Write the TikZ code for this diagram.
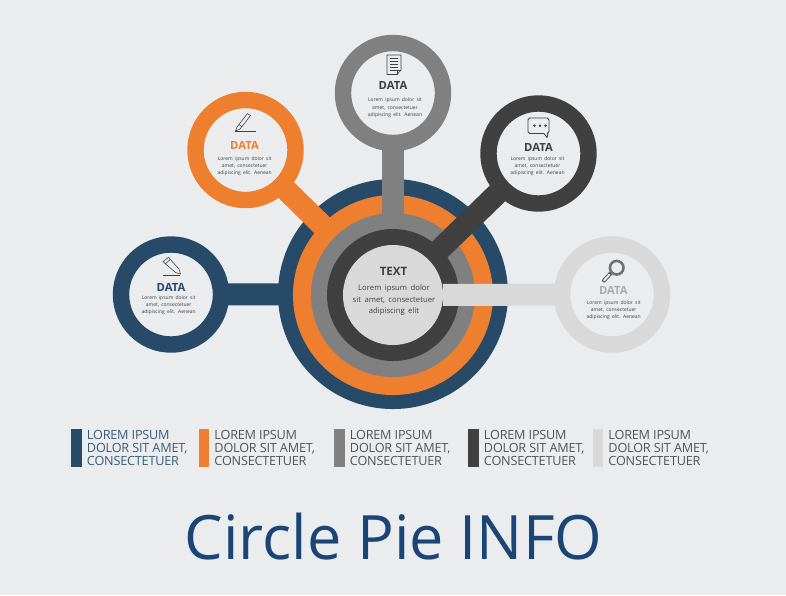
\documentclass[tikz,border=0pt]{standalone}
\usepackage{fontspec}
\setmainfont{Open Sans}
\newfontfamily\widefont[WordSpace=2.2]{Open Sans}
\newfontfamily\hubfont[WordSpace=1.7]{Open Sans}
\newfontfamily\legendfont[LetterSpace=-1.6]{Open Sans}
\usetikzlibrary{positioning}
\definecolor{navyc}{HTML}{264A68}
\definecolor{orangec}{HTML}{EE7F2E}
\definecolor{grayc}{HTML}{808080}
\definecolor{darkc}{HTML}{404040}
\definecolor{lightc}{HTML}{D9D9D9}
\definecolor{paperc}{HTML}{EBECEE}
\definecolor{titlec}{HTML}{1B4576}
\tikzset{x=0.025cm,y=-0.025cm,
  hubring/.style={circle,inner sep=0pt,outer sep=0pt,minimum size=#1},
  satring/.style={circle,inner sep=0pt,outer sep=0pt,minimum size=2.5cm,line width=0.41cm,fill=paperc,draw=#1},
  spoke/.style={line width=0.55cm,#1},
  datalabel/.style={inner sep=0pt,font=\fontsize{8}{9}\selectfont\bfseries},
  loremtext/.style={inner sep=0pt,align=center,text=darkc,font=\widefont\fontsize{3.55}{5.1}\selectfont},
  legendbar/.style={inner sep=0pt,outer sep=0pt,minimum width=0.27cm,minimum height=0.95cm,fill=#1},
  legendtext/.style={inner sep=0pt,align=left,font=\legendfont\fontsize{9}{9.2}\selectfont},
  icon/.style={draw=darkc,line width=0.4pt,line join=round}}

\begin{document}
\begin{tikzpicture}
                  \fill[paperc] (0,0) rectangle (786,595);
                  \useasboundingbox (0,0) rectangle (786,595);
                  \node[hubring=5.75cm,fill=navyc] (ringnavy) at (393,294) {};
                  \node[satring=navyc] (satnavy) at (171,294.5) {};
                  \draw[spoke=navyc] (ringnavy.center) -- (satnavy);
                  \node[hubring=5cm,fill=orangec] (ringorange) at (393,295) {};
                  \node[satring=orangec] (satorange) at (245.5,150) {};
                  \draw[spoke=orangec] (ringorange.center) -- (satorange);
                  \node[hubring=4.1cm,fill=grayc] (ringgray) at (393,295) {};
                  \node[satring=grayc] (satgray) at (393,93) {};
                  \draw[spoke=grayc] (ringgray.center) -- (satgray);
                  \node[hubring=3.3cm,fill=darkc] (ringdark) at (393,295) {};
                  \node[satring=darkc] (satdark) at (538.5,153.5) {};
                  \draw[spoke=darkc] (ringdark.center) -- (satdark);
                  \node[hubring=2.5cm,fill=lightc] (hub) at (393,295) {};
                  \node[satring=lightc] (satlight) at (612,294.5) {};
                  \draw[spoke=lightc] (hub) -- (satlight);

                  \node[inner sep=0pt,text=darkc,font=\fontsize{8.2}{9}\selectfont\bfseries] (hubtitle) at (393.5,271) {TEXT};
                  \node[inner sep=0pt,align=center,text=darkc,font=\hubfont\fontsize{5.5}{8.2}\selectfont] (hubtext) at (394,300) {Lorem ipsum dolor\\sit amet, consectetuer\\adipiscing elit};

                  \node[datalabel,text=navyc] (datanavy) at (171,287) {DATA};
                  \node[datalabel,text=orangec] (dataorange) at (244.5,145) {DATA};
                  \node[datalabel,text=darkc] (datagray) at (393,85) {DATA};
                  \node[datalabel,text=darkc] (datadark) at (538.5,147) {DATA};
                  \node[datalabel,text=lightc!70!darkc] (datalight) at (613.3,290) {DATA};
                  \node[loremtext] (loremnavy) at (168.7,305.5) {Lorem ipsum dolor sit\\amet, consectetuer\\adipiscing elit. Aenean};
                  \node[loremtext] (loremorange) at (244.7,166) {Lorem ipsum dolor sit\\amet, consectetuer\\adipiscing elit. Aenean};
                  \node[loremtext] (loremgray) at (395,107.7) {Lorem ipsum dolor sit\\amet, consectetuer\\adipiscing elit. Aenean};
                  \node[loremtext] (loremdark) at (537.5,166.3) {Lorem ipsum dolor sit\\amet, consectetuer\\adipiscing elit. Aenean};
                  \node[loremtext] (loremlight) at (613.7,310) {Lorem ipsum dolor sit\\amet, consectetuer\\adipiscing elit. Aenean};

                  \draw[icon] (163,261.7) -- (168.3,257.3) -- (179,269) -- (180.5,274) -- (175.5,272.5) -- cycle;
                  \draw[icon] (165,264) -- (170.3,259.5);
                  \draw[icon] (163,275) -- (180,275);
                  \draw[icon] (247.5,113.5) -- (250.5,115.5) -- (240,129) -- (235.5,131) -- (237,127) -- cycle;
                  \draw[icon] (239,124.5) -- (242,127);
                  \draw[icon] (235,131) -- (256,131);
                  \draw[icon] (387,55) -- (401,55) -- (401,70) -- (397,74.5) -- (387,74.5) -- cycle;
                  \draw[icon] (401,70) -- (397,70) -- (397,74.5);
                  \foreach \liney in {58.5,61.5,64.5,67.5,70.5}
                      \draw[icon] (390,\liney) -- (398,\liney);
                  \draw[icon,line width=0.6pt,rounded corners=1.2pt] (544,133.5) -- (528,133.5) -- (528,118) -- (549,118) -- (549,133.5) -- (548,133.5);
                  \draw[icon,line width=0.6pt] (544,133.5) -- (547,137.5) -- (548,133.5);
                  \foreach \dotx in {534.5,540,545.5}
                      \fill[darkc] (\dotx,125.7) circle (1.4);
                  \draw[darkc!85,line width=0.1cm,line cap=round] (610.5,273.5) -- (604,280.5);
                  \draw[paperc,line width=0.05cm,line cap=round] (609.5,274.5) -- (604,280.5);
                  \draw[darkc!75,line width=0.065cm] (616.7,267.7) circle (6.8);

                  \foreach \barid/\barx/\barcol/\txtcol in {a/76.5/navyc/navyc,b/204/orangec/darkc,c/339.5/grayc/darkc,d/473.5/darkc/darkc,e/598/lightc/darkc}
                      {\node[legendbar=\barcol] (legbar\barid) at (\barx,448) {};
                       \node[legendtext,text=\txtcol!90!white,right=0.12cm of legbar\barid] (legtext\barid) {LOREM IPSUM\\DOLOR SIT AMET,\\CONSECTETUER};}

                  \node[inner sep=0pt,text=titlec,font=\fontsize{43.5}{50}\selectfont] (pagetitle) at (393.5,537) {Circle Pie INFO};
              \end{tikzpicture}
\end{document}
